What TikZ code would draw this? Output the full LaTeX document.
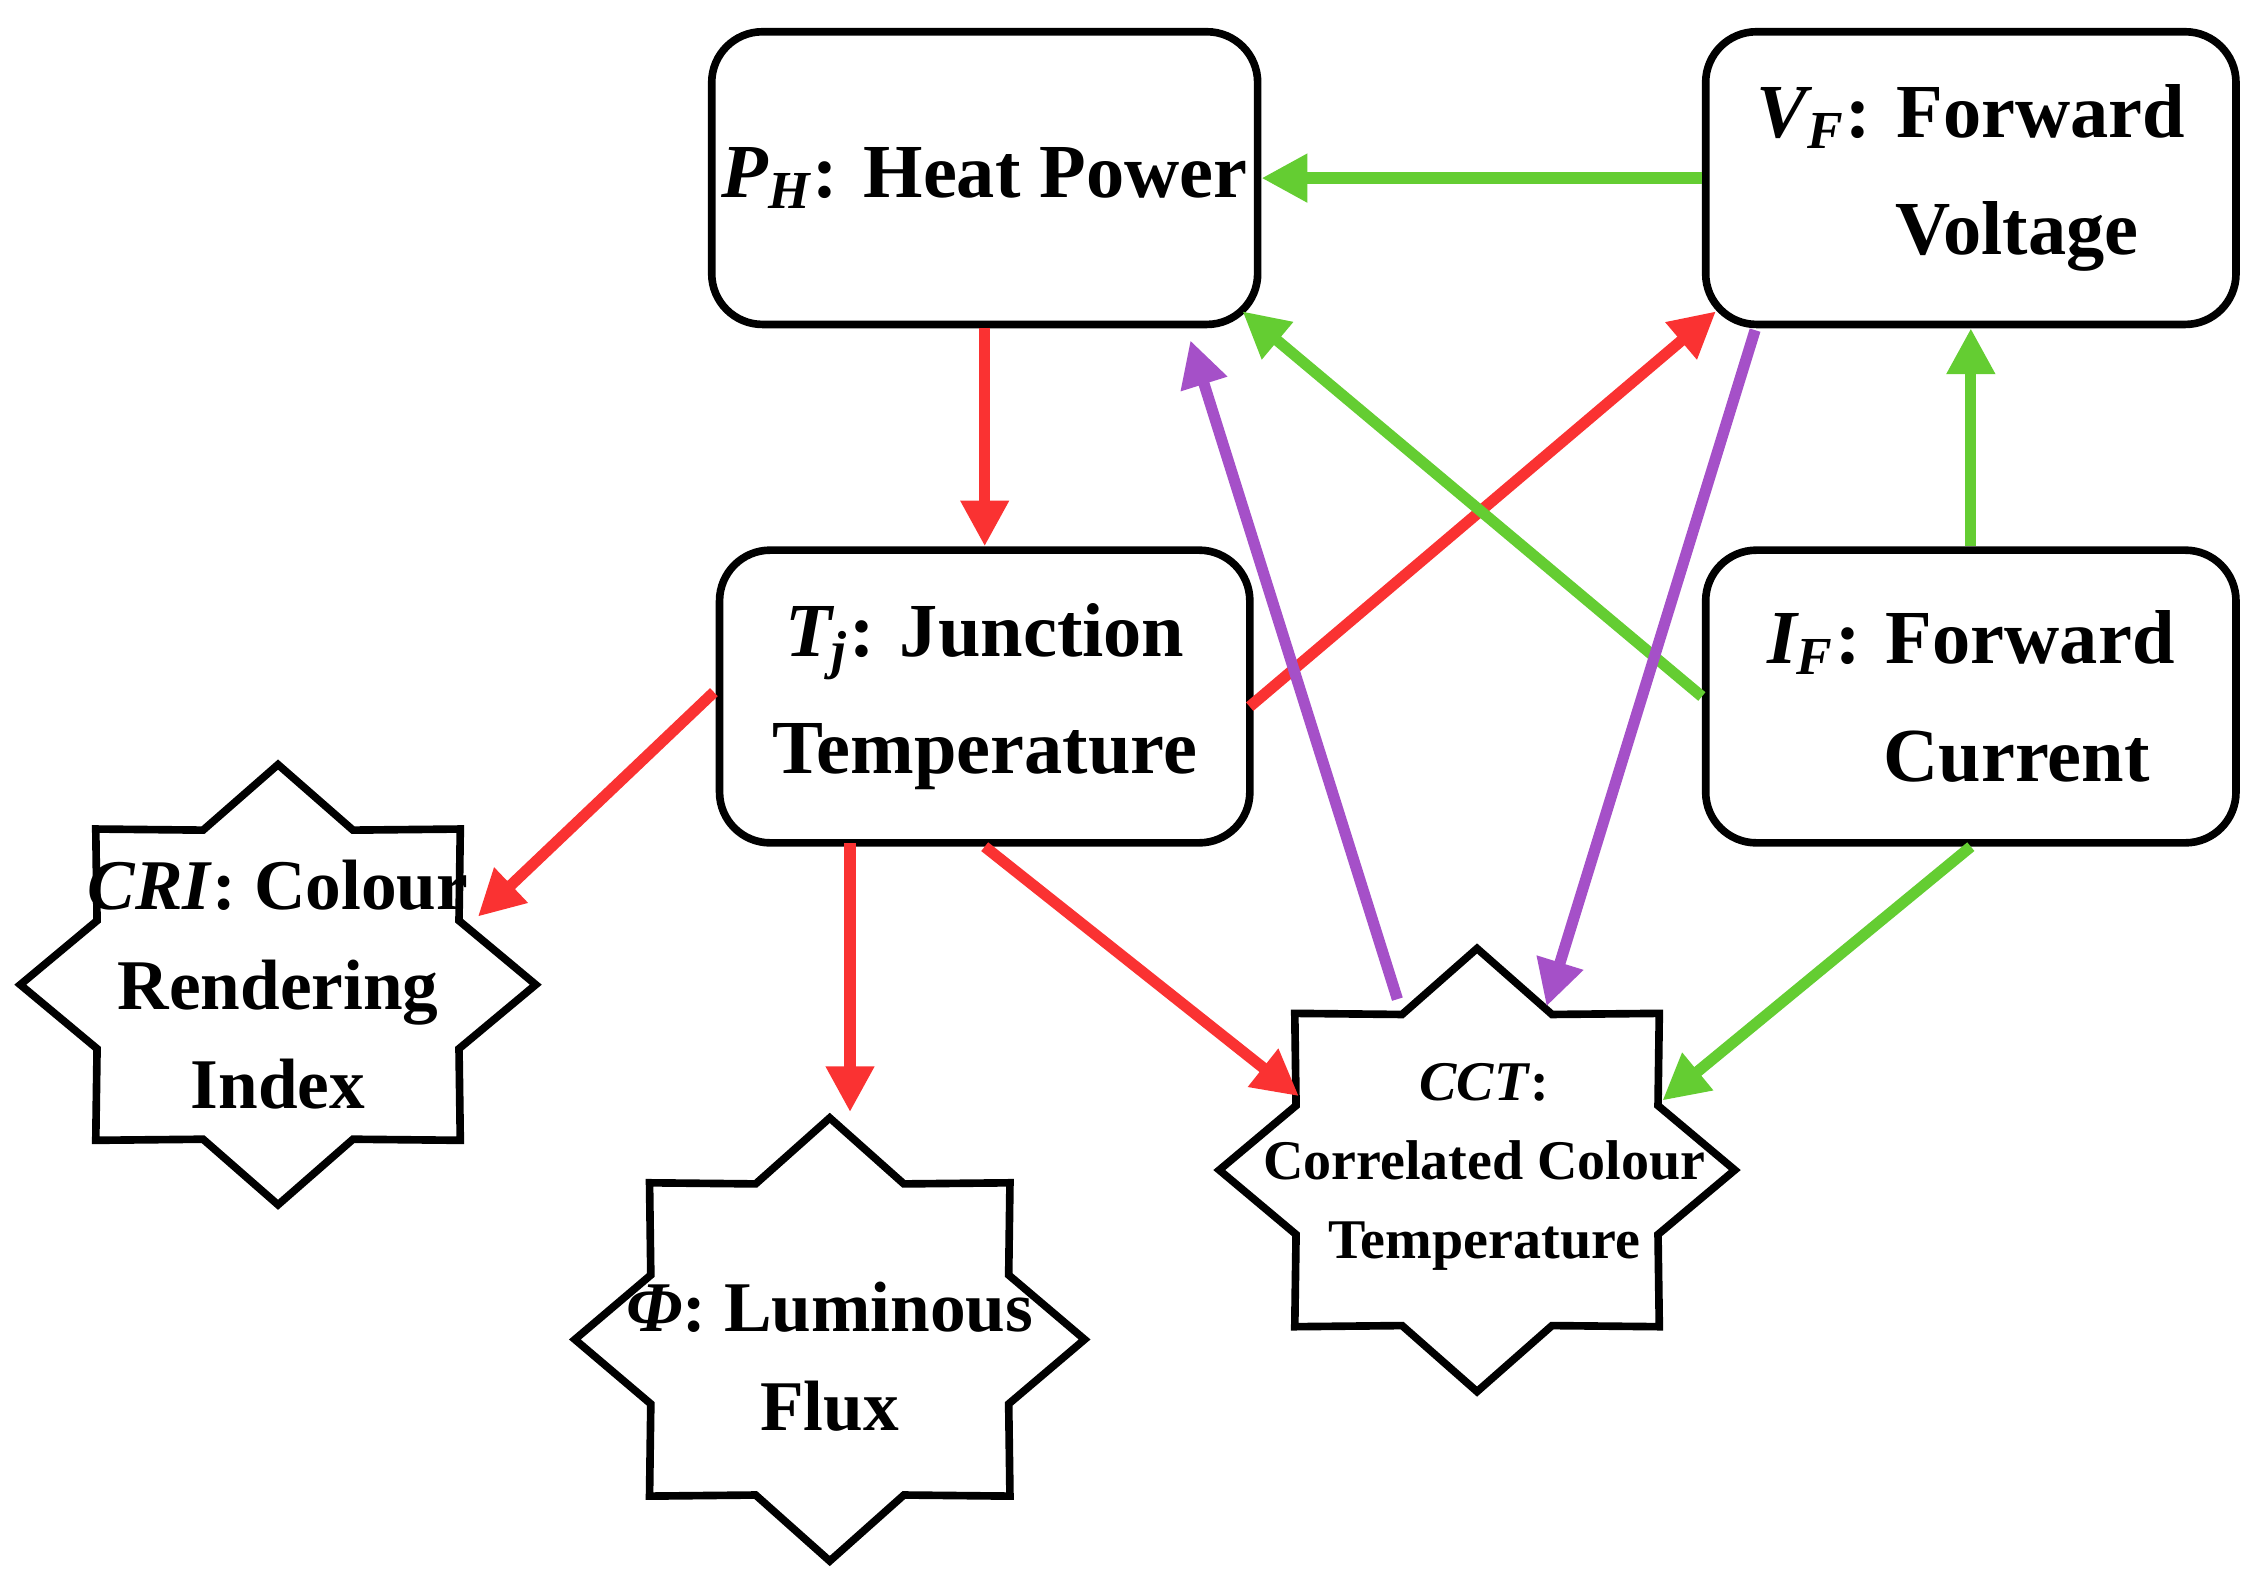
\documentclass[tikz,border=0pt]{standalone}
\usepackage{fontspec}
\setmainfont{Liberation Serif}
\usetikzlibrary{arrows.meta,calc}
\definecolor{ar}{RGB}{250,50,50}
\definecolor{ag}{RGB}{100,205,50}
\definecolor{ap}{RGB}{165,80,200}
\newcommand\mystar[4]{%
 \draw[line width=1.5pt,line join=miter,fill=white] plot[samples at={0,...,15}] ({#1+(mod(\x,2)==0?#3:0.76*#3)*cos(90-\x*22.5)},{#2+(mod(\x,2)==0?#4:0.76*#4)*sin(90-\x*22.5)}) -- cycle;}
\begin{document}
\begin{tikzpicture}[x=0.01cm,y=-0.01cm,
 box/.style={draw,line width=1.5pt,rounded corners=0.35cm,minimum width=3.66cm,minimum height=2.02cm,inner sep=2pt,align=center,font=\fontsize{15}{23}\selectfont\bfseries},
 lab/.style={align=center,font=\fontsize{14}{19.5}\selectfont\bfseries},
 arr/.style={line width=2.2pt,-{Triangle[length=9pt,width=9pt]}}]
\useasboundingbox (0,0) rectangle (1560,1092);
\node[box] (ph) at (680,123) {\textit{P\textsubscript{H}}: Heat Power};
\node[box] (vf) at (1361,123) {\textit{V\textsubscript{F}}: Forward\\\hspace*{1.2em}Voltage};
\node[box] (tj) at (680,481) {\textit{T\textsubscript{j}}: Junction\\Temperature};
\node[box] (if) at (1361,481) {\textit{I\textsubscript{F}}: Forward\\\hspace*{1.2em}Current};
\mystar{192}{680}{178}{152}
\mystar{573}{925}{176}{153}
\mystar{1020}{808}{178}{153}
\node[lab] (cri) at (192,680) {\textit{CRI}: Colour\\Rendering\\Index};
\node[lab] (phi) at (573,937) {\textit{Φ}: Luminous\\Flux};
\node[align=center,font=\fontsize{11}{15.5}\selectfont\bfseries] (cct) at (1025,806) {\textit{CCT}:\\Correlated Colour\\Temperature};
\coordinate (crit) at (330,633);
\coordinate (phit) at (587,768);
\coordinate (cctl) at (897,757);
\coordinate (cctt) at (965,690);
\coordinate (cctp) at (1068,695);
\coordinate (cctr) at (1148,760);
\draw[arr,ag] (vf.west) -- (ph.east);
\draw[arr,ar] (ph.south) -- (tj.north);
\draw[arr,ag] (if.north) -- (vf.south);
\draw[arr,ar] (863,488) -- (1185,215);
\draw[arr,ap] (cctt) -- (822,235);
\draw[arr,ag] (if.west) -- (858,215);
\draw[arr,ap] (1212,228) -- (cctp);
\draw[arr,ar] (493,478) -- (crit);
\draw[arr,ar] (587,582) -- (phit);
\draw[arr,ar] (tj.south) -- (cctl);
\draw[arr,ag] (if.south) -- (cctr);
\end{tikzpicture}
\end{document}
